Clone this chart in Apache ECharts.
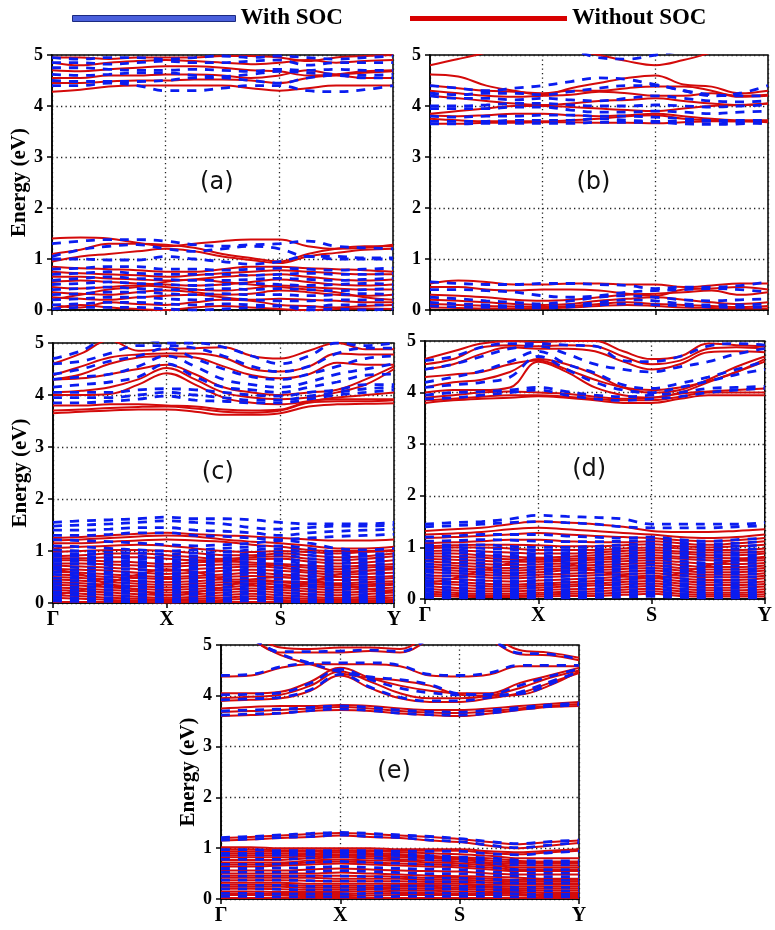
<!DOCTYPE html>
<html><head><meta charset="utf-8">
<script src="https://cdn.jsdelivr.net/npm/echarts@6/dist/echarts.min.js"></script>
<style>html,body{margin:0;padding:0;background:#fff}#c{width:775px;height:930px}</style>
</head><body><div id="c"></div>
<script>
// k-path sample positions (Γ=0, X=1, S=2, Y=3)
const K = [0,0.25,0.5,0.75,1,1.25,1.5,1.75,2,2.25,2.5,2.75,3];
const kLabels = ['Γ','X','S','Y'];
const panelTags = ['(a)','(b)','(c)','(d)','(e)'];
const tagPos = [1.45, 2.5];

// ---------- panel (a) ----------
const aRed = [
 [4.28,4.32,4.38,4.40,4.40,4.40,4.40,4.35,4.30,4.35,4.40,4.40,4.40],
 [4.45,4.45,4.48,4.50,4.50,4.52,4.52,4.50,4.45,4.55,4.60,4.55,4.55],
 [4.55,4.55,4.60,4.60,4.62,4.62,4.60,4.55,4.60,4.70,4.62,4.65,4.68],
 [4.70,4.68,4.72,4.75,4.78,4.78,4.75,4.70,4.68,4.60,4.62,4.68,4.70],
 [4.85,4.80,4.85,4.88,4.90,4.88,4.85,4.82,4.85,4.90,4.85,4.88,4.90],
 [4.95,4.95,4.92,4.95,4.95,4.95,4.98,4.98,4.95,4.88,4.95,4.98,5.00],
 [1.40,1.42,1.40,1.32,1.25,1.30,1.35,1.38,1.38,1.25,1.20,1.22,1.28],
 [1.10,1.18,1.30,1.30,1.28,1.22,1.10,1.02,0.95,1.10,1.20,1.25,1.25],
 [0.95,1.05,1.10,1.15,1.20,1.15,1.05,0.98,0.92,1.05,1.12,1.18,1.20],
 [0.85,0.82,0.80,0.78,0.75,0.75,0.80,0.85,0.85,0.82,0.80,0.78,0.75],
 [0.75,0.72,0.70,0.68,0.65,0.68,0.72,0.75,0.78,0.75,0.72,0.70,0.70],
 [0.65,0.65,0.62,0.60,0.58,0.60,0.65,0.68,0.70,0.65,0.60,0.58,0.60],
 [0.55,0.58,0.55,0.52,0.50,0.48,0.50,0.55,0.60,0.55,0.50,0.48,0.50],
 [0.45,0.42,0.45,0.48,0.45,0.40,0.38,0.42,0.48,0.45,0.42,0.40,0.40],
 [0.35,0.32,0.30,0.35,0.38,0.35,0.30,0.32,0.38,0.35,0.30,0.28,0.30],
 [0.25,0.22,0.20,0.25,0.28,0.30,0.25,0.20,0.22,0.20,0.18,0.15,0.15],
 [0.10,0.05,0.15,0.12,0.10,0.15,0.20,0.18,0.10,0.08,0.05,0.08,0.10],
 [0.02,0.10,0.05,0.02,0.00,0.05,0.08,0.05,0.02,0.00,0.02,0.03,0.02],
 [0.20,0.30,0.40,0.45,0.55,0.60,0.55,0.50,0.45,0.40,0.35,0.25,0.20]
];
const aBlue = [
 [4.40,4.40,4.45,4.40,4.30,4.30,4.35,4.40,4.40,4.30,4.28,4.32,4.40],
 [4.50,4.48,4.48,4.48,4.50,4.55,4.55,4.50,4.45,4.55,4.60,4.55,4.55],
 [4.62,4.60,4.62,4.65,4.65,4.60,4.58,4.62,4.68,4.65,4.62,4.60,4.62],
 [4.75,4.75,4.72,4.70,4.70,4.72,4.70,4.68,4.72,4.70,4.72,4.70,4.70],
 [4.85,4.85,4.82,4.85,4.88,4.85,4.85,4.88,4.90,4.80,4.85,4.85,4.85],
 [4.95,4.92,4.95,4.95,4.92,4.95,4.98,4.95,4.98,4.95,4.92,4.95,4.98],
 [1.30,1.35,1.38,1.38,1.35,1.28,1.25,1.28,1.30,1.35,1.25,1.22,1.20],
 [1.05,1.18,1.25,1.28,1.20,1.15,1.20,1.25,1.20,1.05,1.05,1.02,1.02],
 [1.00,1.00,0.98,0.98,1.05,1.00,0.95,0.90,0.95,1.05,1.00,1.00,1.00],
 [0.80,0.82,0.85,0.85,0.80,0.80,0.78,0.80,0.82,0.80,0.78,0.80,0.82],
 [0.70,0.72,0.75,0.72,0.70,0.70,0.70,0.68,0.70,0.72,0.70,0.70,0.72],
 [0.58,0.62,0.65,0.62,0.60,0.58,0.58,0.60,0.62,0.60,0.58,0.60,0.62],
 [0.50,0.52,0.55,0.52,0.50,0.48,0.50,0.52,0.50,0.48,0.50,0.52,0.50],
 [0.40,0.42,0.45,0.42,0.40,0.40,0.42,0.40,0.42,0.40,0.38,0.40,0.42],
 [0.30,0.32,0.35,0.35,0.32,0.30,0.32,0.30,0.30,0.28,0.30,0.32,0.30],
 [0.20,0.22,0.25,0.25,0.22,0.20,0.22,0.20,0.18,0.18,0.20,0.20,0.20],
 [0.10,0.12,0.15,0.15,0.12,0.10,0.12,0.10,0.08,0.05,0.10,0.10,0.10],
 [0.02,0.05,0.05,0.05,0.02,0.00,0.02,0.05,0.08,0.00,0.02,0.00,0.02]
];

// ---------- panel (b) ----------
const bRed = [
 [4.80,4.92,5.05,5.20,5.20,5.20,5.20,5.20,5.20,5.20,5.20,5.20,5.20],
 [5.20,5.20,5.20,5.20,5.20,5.10,5.00,4.88,4.80,4.90,5.05,5.20,5.20],
 [4.62,4.58,4.40,4.30,4.22,4.35,4.45,4.55,4.60,4.42,4.38,4.25,4.30],
 [4.40,4.35,4.30,4.28,4.25,4.30,4.30,4.35,4.38,4.38,4.30,4.18,4.20],
 [4.30,4.25,4.20,4.18,4.20,4.22,4.28,4.25,4.20,4.20,4.25,4.20,4.22],
 [4.20,4.15,4.10,4.05,4.02,4.05,4.10,4.12,4.15,4.10,4.05,4.02,4.05],
 [3.85,3.90,3.95,4.00,4.00,3.98,3.95,3.92,3.90,3.95,4.00,4.02,4.05],
 [3.82,3.80,3.82,3.85,3.85,3.82,3.80,3.82,3.85,3.80,3.75,3.72,3.72],
 [3.75,3.72,3.70,3.70,3.70,3.72,3.75,3.80,3.82,3.75,3.72,3.70,3.70],
 [3.65,3.65,3.67,3.67,3.68,3.68,3.67,3.67,3.66,3.68,3.70,3.70,3.68],
 [0.52,0.58,0.55,0.50,0.50,0.52,0.52,0.50,0.50,0.45,0.48,0.52,0.52],
 [0.45,0.45,0.40,0.38,0.40,0.40,0.38,0.32,0.28,0.40,0.42,0.45,0.40],
 [0.30,0.28,0.25,0.20,0.18,0.20,0.25,0.30,0.32,0.35,0.38,0.30,0.35],
 [0.20,0.18,0.15,0.12,0.10,0.12,0.18,0.22,0.25,0.20,0.15,0.12,0.15],
 [0.12,0.10,0.08,0.07,0.06,0.08,0.12,0.15,0.12,0.10,0.08,0.06,0.08],
 [0.05,0.04,0.03,0.03,0.03,0.05,0.08,0.10,0.08,0.05,0.04,0.03,0.03]
];
const bBlue = [
 [5.20,5.20,5.20,5.20,5.20,5.10,4.95,4.92,5.00,5.10,5.20,5.20,5.20],
 [4.40,4.35,4.30,4.35,4.40,4.48,4.55,4.52,4.42,4.30,4.20,4.25,4.40],
 [4.25,4.22,4.25,4.25,4.22,4.28,4.35,4.40,4.40,4.30,4.22,4.20,4.20],
 [4.20,4.15,4.15,4.12,4.15,4.12,4.10,4.15,4.20,4.15,4.10,4.08,4.10],
 [4.00,4.00,4.02,4.05,4.05,4.02,4.00,4.00,4.02,4.00,3.98,4.00,4.02],
 [3.95,3.95,3.95,3.98,3.98,3.92,3.88,3.88,3.90,3.88,3.85,3.88,3.90],
 [3.80,3.78,3.80,3.80,3.82,3.82,3.80,3.80,3.78,3.75,3.72,3.72,3.72],
 [3.70,3.70,3.70,3.72,3.72,3.72,3.75,3.72,3.70,3.70,3.70,3.68,3.65],
 [3.65,3.65,3.66,3.66,3.66,3.66,3.68,3.68,3.68,3.65,3.64,3.65,3.68],
 [0.55,0.52,0.50,0.50,0.52,0.52,0.50,0.48,0.42,0.45,0.45,0.48,0.55],
 [0.40,0.40,0.38,0.35,0.28,0.25,0.28,0.35,0.38,0.40,0.42,0.40,0.35],
 [0.25,0.22,0.18,0.15,0.12,0.18,0.25,0.28,0.25,0.20,0.18,0.20,0.22],
 [0.15,0.12,0.10,0.08,0.08,0.10,0.15,0.20,0.18,0.12,0.10,0.10,0.12],
 [0.08,0.06,0.05,0.05,0.04,0.06,0.10,0.12,0.10,0.08,0.06,0.05,0.05]
];

// ---------- panel (c) ----------
const cRed = [
 [3.65,3.68,3.70,3.72,3.72,3.68,3.62,3.62,3.65,3.78,3.82,3.83,3.84],
 [3.70,3.72,3.75,3.77,3.78,3.74,3.68,3.66,3.70,3.85,3.88,3.88,3.90],
 [3.80,3.80,3.82,3.82,3.80,3.78,3.72,3.70,3.72,3.88,3.92,3.92,3.92],
 [4.00,4.00,4.02,4.20,4.42,4.20,3.95,3.85,3.82,3.88,3.95,4.00,4.05],
 [4.05,4.08,4.15,4.30,4.52,4.30,4.05,3.95,3.92,3.95,4.05,4.20,4.50],
 [4.30,4.32,4.40,4.50,4.58,4.40,4.15,4.05,4.00,4.05,4.10,4.30,4.55],
 [4.30,4.40,4.60,4.72,4.75,4.72,4.55,4.38,4.32,4.40,4.62,4.58,4.58],
 [4.38,4.55,4.72,4.78,4.80,4.80,4.72,4.50,4.45,4.55,4.80,4.78,4.78],
 [4.60,4.80,5.05,4.85,4.88,4.90,4.92,4.75,4.70,4.85,5.00,4.88,4.88],
 [1.25,1.27,1.30,1.33,1.35,1.32,1.30,1.28,1.25,1.22,1.20,1.20,1.22],
 [1.20,1.22,1.25,1.28,1.30,1.28,1.22,1.18,1.15,1.10,1.05,1.05,1.08],
 [1.15,1.15,1.18,1.20,1.22,1.20,1.18,1.12,1.08,1.02,1.00,1.00,1.02],
 [1.05,1.08,1.10,1.12,1.10,1.05,1.00,0.98,1.00,0.98,0.95,0.98,1.00],
 [0.98,1.00,1.02,1.02,1.00,0.96,0.92,0.92,0.95,0.92,0.88,0.90,0.95],
 [0.90,0.92,0.95,0.95,0.92,0.88,0.85,0.88,0.90,0.85,0.82,0.85,0.90],
 [0.86,0.86,0.88,0.88,0.85,0.82,0.82,0.84,0.85,0.80,0.76,0.78,0.82],
 [0.82,0.82,0.80,0.78,0.75,0.78,0.80,0.78,0.75,0.72,0.70,0.72,0.75],
 [0.76,0.76,0.74,0.72,0.70,0.72,0.74,0.74,0.72,0.68,0.65,0.68,0.70],
 [0.72,0.70,0.68,0.65,0.62,0.65,0.68,0.70,0.68,0.62,0.60,0.62,0.65],
 [0.66,0.64,0.62,0.58,0.56,0.58,0.62,0.64,0.62,0.58,0.55,0.56,0.58],
 [0.60,0.58,0.55,0.52,0.50,0.52,0.55,0.58,0.55,0.52,0.50,0.50,0.52],
 [0.55,0.53,0.50,0.48,0.46,0.48,0.50,0.52,0.50,0.46,0.44,0.45,0.48],
 [0.50,0.48,0.45,0.42,0.40,0.42,0.45,0.45,0.42,0.40,0.38,0.40,0.42],
 [0.45,0.43,0.40,0.37,0.35,0.37,0.40,0.42,0.40,0.36,0.34,0.36,0.38],
 [0.40,0.38,0.35,0.32,0.30,0.32,0.35,0.38,0.35,0.32,0.30,0.32,0.35],
 [0.35,0.33,0.30,0.27,0.25,0.27,0.30,0.33,0.30,0.27,0.25,0.27,0.30],
 [0.30,0.28,0.25,0.22,0.20,0.22,0.25,0.28,0.25,0.22,0.20,0.22,0.25],
 [0.25,0.23,0.20,0.17,0.15,0.17,0.20,0.23,0.20,0.17,0.15,0.17,0.20],
 [0.20,0.18,0.15,0.12,0.10,0.12,0.15,0.18,0.15,0.12,0.10,0.12,0.15],
 [0.15,0.13,0.10,0.08,0.07,0.08,0.10,0.13,0.10,0.08,0.07,0.08,0.10],
 [0.10,0.08,0.06,0.05,0.04,0.05,0.06,0.08,0.06,0.05,0.04,0.05,0.06],
 [0.02,0.02,0.02,0.02,0.01,0.02,0.02,0.02,0.02,0.02,0.02,0.02,0.02],
 [0.15,0.25,0.40,0.55,0.65,0.60,0.45,0.35,0.30,0.40,0.55,0.62,0.68],
 [0.65,0.55,0.35,0.25,0.15,0.20,0.30,0.45,0.50,0.45,0.35,0.28,0.20]
];
const cBlue = [
 [3.85,3.85,3.88,3.92,3.98,3.90,3.88,3.85,3.85,3.92,4.00,4.05,4.10],
 [3.95,3.95,3.95,4.00,4.05,4.00,3.95,3.90,3.90,3.98,4.05,4.12,4.15],
 [4.05,4.05,4.05,4.10,4.12,4.10,4.05,4.00,3.98,4.05,4.10,4.20,4.20],
 [4.15,4.20,4.25,4.35,4.60,4.35,4.15,4.10,4.05,4.15,4.25,4.38,4.40],
 [4.30,4.35,4.40,4.55,4.75,4.55,4.30,4.20,4.15,4.25,4.40,4.50,4.60],
 [4.40,4.50,4.65,4.75,4.90,4.70,4.50,4.35,4.30,4.40,4.55,4.70,4.75],
 [4.60,4.65,4.80,4.95,4.95,4.90,4.75,4.55,4.45,4.55,4.80,4.90,4.90],
 [4.70,4.85,5.10,5.10,5.00,5.00,4.92,4.75,4.60,4.75,5.00,4.95,5.00],
 [1.55,1.58,1.60,1.62,1.65,1.62,1.62,1.60,1.55,1.52,1.52,1.52,1.55],
 [1.48,1.50,1.52,1.55,1.58,1.55,1.52,1.45,1.42,1.45,1.48,1.48,1.50],
 [1.40,1.40,1.42,1.45,1.45,1.40,1.38,1.35,1.30,1.35,1.38,1.40,1.42],
 [1.30,1.30,1.32,1.35,1.35,1.30,1.28,1.25,1.22,1.25,1.28,1.30,1.32],
 [1.22,1.20,1.18,1.15,1.12,1.10,1.12,1.15,1.20,1.15,1.05,1.02,1.05],
 [1.10,1.08,1.05,1.02,1.00,1.02,1.05,1.08,1.10,1.05,0.98,0.95,0.95],
 [1.02,1.00,0.98,0.96,0.94,0.96,0.98,1.02,1.04,0.98,0.93,0.90,0.90],
 [0.95,0.95,0.92,0.90,0.88,0.90,0.92,0.95,0.98,0.92,0.88,0.85,0.85],
 [0.90,0.90,0.87,0.85,0.83,0.85,0.87,0.90,0.92,0.86,0.83,0.80,0.80],
 [0.85,0.85,0.82,0.80,0.78,0.80,0.82,0.85,0.85,0.80,0.78,0.75,0.75],
 [0.80,0.80,0.77,0.75,0.73,0.75,0.77,0.80,0.80,0.75,0.73,0.70,0.70],
 [0.75,0.75,0.72,0.70,0.68,0.70,0.72,0.75,0.75,0.70,0.68,0.65,0.65],
 [0.70,0.68,0.66,0.64,0.63,0.65,0.67,0.70,0.68,0.65,0.63,0.60,0.60],
 [0.65,0.62,0.60,0.58,0.58,0.60,0.62,0.65,0.62,0.60,0.58,0.55,0.55],
 [0.60,0.57,0.55,0.53,0.53,0.55,0.57,0.60,0.57,0.55,0.53,0.50,0.50],
 [0.55,0.52,0.50,0.48,0.48,0.50,0.52,0.55,0.52,0.50,0.48,0.45,0.45],
 [0.48,0.47,0.45,0.43,0.43,0.45,0.47,0.48,0.46,0.45,0.43,0.40,0.40],
 [0.42,0.42,0.40,0.38,0.38,0.40,0.42,0.42,0.40,0.40,0.38,0.35,0.35],
 [0.37,0.36,0.35,0.33,0.33,0.35,0.36,0.37,0.35,0.35,0.33,0.30,0.30],
 [0.32,0.30,0.30,0.28,0.28,0.30,0.30,0.32,0.30,0.30,0.28,0.25,0.25],
 [0.27,0.25,0.25,0.23,0.23,0.25,0.25,0.27,0.25,0.24,0.23,0.20,0.20],
 [0.22,0.20,0.20,0.18,0.18,0.20,0.20,0.22,0.20,0.18,0.18,0.15,0.15],
 [0.17,0.15,0.15,0.13,0.13,0.15,0.15,0.17,0.15,0.13,0.13,0.12,0.12],
 [0.12,0.10,0.10,0.08,0.08,0.10,0.10,0.12,0.10,0.08,0.08,0.08,0.08],
 [0.08,0.07,0.07,0.05,0.05,0.07,0.07,0.08,0.07,0.05,0.05,0.05,0.05],
 [0.04,0.03,0.03,0.02,0.02,0.03,0.03,0.04,0.03,0.02,0.02,0.02,0.02]
];

// ---------- panel (d) ----------
const dRed = [
 [3.80,3.85,3.88,3.90,3.93,3.90,3.85,3.80,3.80,3.88,3.95,3.95,3.95],
 [3.85,3.88,3.92,3.95,3.95,3.92,3.88,3.85,3.85,3.92,4.00,4.00,4.00],
 [3.90,3.95,4.00,4.02,4.00,3.98,3.92,3.88,3.90,3.98,4.02,4.05,4.08],
 [4.00,4.05,4.05,4.10,4.60,4.40,4.10,3.95,3.90,4.00,4.20,4.40,4.65],
 [4.10,4.20,4.25,4.40,4.65,4.55,4.35,4.10,4.00,4.05,4.25,4.50,4.70],
 [4.30,4.35,4.40,4.55,4.62,4.45,4.25,4.10,4.05,4.10,4.22,4.40,4.60],
 [4.45,4.55,4.75,4.88,4.85,4.85,4.80,4.60,4.45,4.55,4.78,4.80,4.78],
 [4.55,4.65,4.88,4.92,4.90,4.92,4.90,4.70,4.55,4.62,4.85,4.88,4.85],
 [4.65,4.80,4.95,5.00,4.98,5.00,5.00,4.80,4.65,4.70,4.95,4.92,4.90],
 [1.32,1.35,1.38,1.45,1.50,1.48,1.45,1.40,1.32,1.30,1.30,1.32,1.35],
 [1.25,1.27,1.30,1.35,1.38,1.35,1.32,1.28,1.25,1.20,1.18,1.20,1.25],
 [1.18,1.20,1.22,1.25,1.28,1.25,1.22,1.20,1.18,1.14,1.12,1.14,1.18],
 [1.08,1.10,1.12,1.15,1.15,1.12,1.10,1.10,1.12,1.08,1.05,1.08,1.12],
 [1.02,1.04,1.05,1.05,1.04,1.02,1.02,1.04,1.06,1.02,1.00,1.02,1.05],
 [0.98,1.00,1.00,0.98,0.95,0.95,0.95,0.98,1.00,0.98,0.95,0.95,0.98],
 [0.93,0.94,0.92,0.90,0.88,0.88,0.90,0.93,0.95,0.92,0.90,0.90,0.92],
 [0.88,0.88,0.85,0.82,0.80,0.82,0.85,0.88,0.90,0.88,0.85,0.85,0.88],
 [0.83,0.82,0.80,0.77,0.76,0.78,0.80,0.83,0.85,0.82,0.80,0.79,0.82],
 [0.78,0.76,0.74,0.72,0.72,0.74,0.76,0.78,0.80,0.78,0.75,0.74,0.75],
 [0.73,0.70,0.68,0.66,0.67,0.69,0.71,0.73,0.75,0.72,0.68,0.68,0.70],
 [0.68,0.65,0.62,0.60,0.62,0.64,0.66,0.68,0.70,0.66,0.62,0.62,0.65],
 [0.63,0.60,0.57,0.55,0.57,0.59,0.61,0.63,0.65,0.60,0.57,0.57,0.60],
 [0.58,0.55,0.52,0.50,0.52,0.55,0.56,0.58,0.60,0.55,0.52,0.52,0.55],
 [0.52,0.50,0.47,0.45,0.47,0.49,0.51,0.53,0.55,0.50,0.47,0.47,0.50],
 [0.45,0.45,0.42,0.40,0.42,0.44,0.46,0.48,0.50,0.45,0.42,0.42,0.45],
 [0.40,0.39,0.36,0.34,0.36,0.38,0.40,0.43,0.45,0.40,0.37,0.37,0.40],
 [0.35,0.33,0.30,0.28,0.30,0.32,0.35,0.38,0.40,0.35,0.32,0.32,0.34],
 [0.30,0.28,0.25,0.24,0.26,0.28,0.30,0.33,0.35,0.30,0.27,0.27,0.29],
 [0.25,0.22,0.20,0.20,0.22,0.24,0.26,0.28,0.30,0.25,0.22,0.22,0.24],
 [0.20,0.17,0.15,0.15,0.17,0.19,0.20,0.23,0.25,0.20,0.17,0.17,0.19],
 [0.15,0.12,0.10,0.10,0.12,0.14,0.15,0.18,0.20,0.15,0.12,0.12,0.14],
 [0.10,0.08,0.07,0.07,0.08,0.10,0.10,0.13,0.15,0.10,0.08,0.08,0.09],
 [0.06,0.05,0.04,0.04,0.05,0.06,0.06,0.08,0.10,0.06,0.05,0.05,0.05],
 [0.30,0.40,0.55,0.70,0.80,0.70,0.55,0.45,0.40,0.50,0.65,0.75,0.80]
];
const dBlue = [
 [3.88,3.90,3.95,4.00,4.05,3.95,3.88,3.85,3.88,3.92,4.00,4.05,4.08],
 [3.95,4.00,4.02,4.05,4.10,4.02,3.95,3.92,3.95,4.00,4.08,4.10,4.12],
 [4.10,4.15,4.20,4.30,4.70,4.45,4.20,4.05,4.00,4.10,4.22,4.35,4.45],
 [4.20,4.30,4.42,4.60,4.80,4.55,4.38,4.15,4.08,4.18,4.30,4.45,4.60],
 [4.45,4.55,4.70,4.85,4.90,4.75,4.55,4.45,4.40,4.50,4.60,4.75,4.85],
 [4.62,4.70,4.88,4.95,4.95,4.92,4.90,4.62,4.60,4.70,4.90,4.95,4.92],
 [1.45,1.48,1.50,1.55,1.62,1.60,1.58,1.55,1.45,1.45,1.45,1.45,1.48],
 [1.40,1.42,1.45,1.48,1.50,1.48,1.45,1.40,1.38,1.38,1.38,1.40,1.42],
 [1.20,1.22,1.25,1.25,1.25,1.22,1.20,1.18,1.20,1.15,1.12,1.15,1.18],
 [1.12,1.13,1.15,1.14,1.12,1.11,1.11,1.12,1.14,1.10,1.07,1.08,1.12],
 [1.05,1.05,1.05,1.02,1.00,1.00,1.02,1.05,1.08,1.05,1.02,1.02,1.05],
 [1.00,1.00,0.98,0.96,0.94,0.95,0.97,1.00,1.03,1.00,0.97,0.96,0.98],
 [0.95,0.95,0.92,0.90,0.88,0.90,0.92,0.95,0.98,0.95,0.92,0.90,0.92],
 [0.90,0.90,0.87,0.85,0.83,0.85,0.87,0.90,0.93,0.90,0.87,0.85,0.87],
 [0.85,0.84,0.82,0.80,0.78,0.80,0.82,0.85,0.88,0.85,0.82,0.80,0.82],
 [0.80,0.78,0.76,0.74,0.73,0.75,0.77,0.80,0.83,0.80,0.76,0.75,0.77],
 [0.74,0.72,0.70,0.68,0.68,0.70,0.72,0.75,0.78,0.74,0.70,0.70,0.72],
 [0.68,0.66,0.64,0.62,0.63,0.65,0.67,0.70,0.72,0.68,0.65,0.64,0.66],
 [0.63,0.60,0.58,0.56,0.58,0.60,0.62,0.64,0.66,0.62,0.60,0.58,0.60],
 [0.57,0.55,0.53,0.51,0.53,0.55,0.57,0.59,0.60,0.57,0.55,0.53,0.55],
 [0.52,0.50,0.48,0.46,0.48,0.50,0.52,0.54,0.55,0.52,0.50,0.48,0.50],
 [0.46,0.44,0.42,0.40,0.42,0.44,0.46,0.48,0.50,0.46,0.44,0.42,0.44],
 [0.40,0.38,0.36,0.35,0.36,0.38,0.40,0.42,0.44,0.40,0.38,0.36,0.38],
 [0.35,0.33,0.31,0.30,0.31,0.33,0.35,0.37,0.39,0.35,0.33,0.31,0.33],
 [0.30,0.28,0.26,0.25,0.26,0.28,0.30,0.32,0.34,0.30,0.28,0.26,0.28],
 [0.25,0.23,0.21,0.20,0.21,0.23,0.25,0.27,0.29,0.25,0.23,0.21,0.23],
 [0.20,0.18,0.16,0.15,0.16,0.18,0.20,0.22,0.24,0.20,0.18,0.16,0.18],
 [0.15,0.13,0.12,0.11,0.12,0.13,0.15,0.17,0.19,0.15,0.13,0.12,0.13],
 [0.10,0.09,0.08,0.07,0.08,0.09,0.10,0.12,0.14,0.10,0.09,0.08,0.08],
 [0.06,0.05,0.05,0.04,0.05,0.05,0.06,0.08,0.09,0.06,0.05,0.05,0.05],
 [0.03,0.02,0.02,0.02,0.02,0.02,0.03,0.04,0.05,0.03,0.02,0.02,0.02]
];

// ---------- panel (e) ----------
const eRed = [
 [3.60,3.62,3.65,3.70,3.72,3.70,3.65,3.62,3.60,3.65,3.72,3.78,3.80],
 [3.68,3.70,3.72,3.75,3.78,3.75,3.70,3.67,3.66,3.70,3.75,3.80,3.84],
 [3.75,3.78,3.80,3.80,3.82,3.80,3.75,3.72,3.72,3.75,3.80,3.84,3.88],
 [3.90,3.92,3.95,4.10,4.40,4.15,3.95,3.88,3.88,3.95,4.05,4.25,4.45],
 [3.95,3.98,4.02,4.20,4.48,4.28,4.05,3.95,3.95,4.00,4.15,4.35,4.50],
 [4.05,4.05,4.08,4.28,4.55,4.35,4.20,4.10,4.05,4.05,4.25,4.40,4.55],
 [4.38,4.40,4.55,4.62,4.62,4.62,4.58,4.40,4.38,4.42,4.58,4.58,4.58],
 [5.30,5.10,4.80,4.62,4.45,4.35,4.30,4.20,4.02,4.00,4.02,4.20,4.48],
 [5.30,5.10,4.85,4.85,4.85,4.88,4.85,5.10,5.30,5.10,4.82,4.80,4.70],
 [5.30,5.20,4.95,4.92,4.95,4.95,4.92,5.20,5.30,5.20,4.90,4.85,4.75],
 [1.20,1.22,1.25,1.28,1.30,1.28,1.25,1.22,1.18,1.12,1.08,1.12,1.15],
 [1.15,1.17,1.20,1.22,1.25,1.22,1.20,1.15,1.12,1.05,1.00,1.05,1.10],
 [1.02,1.02,1.00,1.00,1.00,1.00,0.98,0.98,0.98,0.94,0.92,0.95,0.98],
 [0.98,0.98,0.96,0.96,0.96,0.96,0.95,0.95,0.95,0.90,0.88,0.92,0.95],
 [0.94,0.94,0.94,0.94,0.95,0.94,0.92,0.90,0.88,0.85,0.80,0.80,0.80],
 [0.90,0.90,0.90,0.90,0.92,0.90,0.88,0.85,0.82,0.80,0.75,0.74,0.74],
 [0.86,0.86,0.86,0.87,0.88,0.87,0.85,0.82,0.80,0.76,0.72,0.72,0.72],
 [0.82,0.82,0.82,0.84,0.85,0.84,0.82,0.80,0.78,0.72,0.70,0.70,0.70],
 [0.77,0.77,0.77,0.80,0.82,0.80,0.78,0.76,0.74,0.69,0.66,0.66,0.66],
 [0.72,0.72,0.72,0.76,0.78,0.76,0.75,0.72,0.70,0.66,0.62,0.62,0.62],
 [0.68,0.68,0.69,0.72,0.74,0.72,0.70,0.68,0.66,0.62,0.58,0.58,0.58],
 [0.64,0.64,0.66,0.68,0.70,0.68,0.66,0.64,0.62,0.58,0.55,0.55,0.55],
 [0.56,0.56,0.56,0.58,0.60,0.58,0.56,0.55,0.54,0.50,0.48,0.48,0.48],
 [0.50,0.50,0.50,0.50,0.52,0.50,0.48,0.46,0.45,0.44,0.42,0.40,0.40],
 [0.46,0.46,0.46,0.46,0.46,0.45,0.44,0.42,0.42,0.40,0.38,0.38,0.38],
 [0.42,0.42,0.42,0.42,0.40,0.40,0.40,0.38,0.38,0.36,0.35,0.35,0.35],
 [0.37,0.37,0.37,0.36,0.35,0.35,0.35,0.34,0.34,0.32,0.31,0.31,0.31],
 [0.32,0.32,0.32,0.30,0.30,0.30,0.30,0.30,0.30,0.28,0.28,0.28,0.28],
 [0.28,0.28,0.28,0.26,0.26,0.26,0.27,0.27,0.26,0.25,0.24,0.24,0.24],
 [0.24,0.24,0.24,0.22,0.22,0.22,0.24,0.24,0.22,0.22,0.20,0.20,0.20],
 [0.20,0.20,0.19,0.18,0.18,0.19,0.20,0.20,0.19,0.18,0.17,0.16,0.16],
 [0.15,0.15,0.14,0.14,0.14,0.15,0.16,0.16,0.15,0.14,0.14,0.12,0.12],
 [0.11,0.11,0.10,0.10,0.10,0.11,0.12,0.12,0.11,0.11,0.10,0.09,0.09],
 [0.08,0.08,0.07,0.06,0.06,0.07,0.08,0.08,0.08,0.08,0.07,0.06,0.06],
 [0.02,0.02,0.02,0.02,0.02,0.02,0.02,0.02,0.02,0.02,0.02,0.02,0.02]
];
const eBlue = [
 [3.62,3.64,3.66,3.71,3.74,3.71,3.66,3.63,3.62,3.66,3.73,3.79,3.82],
 [3.70,3.72,3.74,3.77,3.80,3.77,3.72,3.69,3.68,3.72,3.77,3.82,3.86],
 [3.92,3.94,3.97,4.12,4.42,4.17,3.97,3.90,3.90,3.97,4.07,4.27,4.47],
 [4.02,4.03,4.06,4.25,4.52,4.32,4.15,4.06,4.02,4.03,4.20,4.38,4.53],
 [4.40,4.42,4.57,4.64,4.65,4.65,4.60,4.42,4.40,4.45,4.60,4.60,4.60],
 [5.30,5.12,4.82,4.64,4.47,4.37,4.32,4.22,4.04,4.02,4.04,4.22,4.50],
 [5.30,5.12,4.87,4.87,4.88,4.90,4.87,5.12,5.30,5.12,4.84,4.82,4.72],
 [1.21,1.23,1.26,1.29,1.31,1.29,1.26,1.23,1.19,1.13,1.09,1.13,1.16],
 [1.16,1.18,1.21,1.23,1.26,1.23,1.21,1.16,1.13,1.06,1.01,1.06,1.11],
 [0.97,0.97,0.95,0.95,0.95,0.95,0.94,0.94,0.94,0.89,0.87,0.91,0.94],
 [0.90,0.90,0.90,0.91,0.93,0.91,0.89,0.86,0.83,0.81,0.76,0.75,0.75],
 [0.86,0.86,0.86,0.87,0.88,0.87,0.85,0.82,0.80,0.76,0.72,0.72,0.72],
 [0.78,0.78,0.78,0.81,0.83,0.81,0.79,0.77,0.75,0.70,0.67,0.67,0.67],
 [0.68,0.68,0.69,0.72,0.74,0.72,0.70,0.68,0.66,0.62,0.58,0.58,0.58],
 [0.60,0.60,0.61,0.62,0.64,0.62,0.60,0.59,0.58,0.54,0.51,0.51,0.51],
 [0.53,0.53,0.53,0.54,0.56,0.54,0.52,0.50,0.50,0.47,0.45,0.44,0.44],
 [0.45,0.45,0.45,0.45,0.45,0.44,0.43,0.41,0.41,0.39,0.37,0.37,0.37],
 [0.37,0.37,0.37,0.36,0.35,0.35,0.35,0.34,0.34,0.32,0.31,0.31,0.31],
 [0.27,0.27,0.27,0.25,0.25,0.25,0.26,0.26,0.25,0.24,0.23,0.23,0.23],
 [0.20,0.20,0.19,0.18,0.18,0.19,0.20,0.20,0.19,0.18,0.17,0.16,0.16],
 [0.11,0.11,0.10,0.10,0.10,0.11,0.12,0.12,0.11,0.11,0.10,0.09,0.09],
 [0.05,0.05,0.04,0.04,0.04,0.04,0.05,0.05,0.05,0.05,0.04,0.04,0.04]
];

const panels = [
  {red: aRed, blue: aBlue, rect:{left:52, top:55, width:341, height:255}, xl:false, yl:true},
  {red: bRed, blue: bBlue, rect:{left:430, top:55, width:338, height:255}, xl:false, yl:false},
  {red: cRed, blue: cBlue, rect:{left:53, top:343, width:341, height:260}, xl:true, yl:true},
  {red: dRed, blue: dBlue, rect:{left:425, top:341, width:343, height:258}, xl:true, yl:false},
  {red: eRed, blue: eBlue, rect:{left:221, top:645, width:358, height:254}, xl:true, yl:true}
];

const RED = '#d40a0a';
const BLUE = '#0a1cf0';
const serif = 'Liberation Serif';

const grids = [], xAxes = [], yAxes = [], series = [];
panels.forEach((p, i) => {
  grids.push(Object.assign({show:true, borderColor:'#000', borderWidth:1.5, backgroundColor:'transparent'}, p.rect));
  xAxes.push({
    type:'value', gridIndex:i, min:0, max:3, interval:1,
    axisLine:{show:true, onZero:false, lineStyle:{color:'#000', width:1.5}},
    axisTick:{show:true, length:5, lineStyle:{color:'#000', width:1.5}},
    axisLabel:{show:p.xl, margin:7, color:'#000', fontFamily:serif, fontWeight:'bold', fontSize:20,
      formatter:(v)=>kLabels[Math.round(v)] || ''},
    splitLine:{show:true, lineStyle:{color:'#222', width:1.3, type:[1.3,3.2]}}
  });
  yAxes.push({
    type:'value', gridIndex:i, min:0, max:5, interval:1,
    name: p.yl ? 'Energy (eV)' : '', nameLocation:'middle', nameGap:21, nameRotate:90,
    nameTextStyle:{color:'#000', fontFamily:serif, fontWeight:'bold', fontSize:21},
    axisLine:{show:true, lineStyle:{color:'#000', width:1.5}},
    axisTick:{show:true, length:5, lineStyle:{color:'#000', width:1.5}},
    axisLabel:{margin:9, color:'#000', fontFamily:serif, fontWeight:'bold', fontSize:18},
    splitLine:{show:true, lineStyle:{color:'#222', width:1.3, type:[1.3,3.2]}}
  });
  p.red.forEach(band => series.push({
    name:'Without SOC', type:'line', xAxisIndex:i, yAxisIndex:i, z:2,
    data:K.map((k,j)=>[k, band[j]]), smooth:0.4, showSymbol:false, symbol:'none',
    lineStyle:{color:RED, width:2}, itemStyle:{color:RED}, silent:true, animation:false
  }));
  p.blue.forEach(band => series.push({
    name:'With SOC', type:'line', xAxisIndex:i, yAxisIndex:i, z:3,
    data:K.map((k,j)=>[k, band[j]]), smooth:0.4, showSymbol:false, symbol:'none',
    lineStyle:{color:BLUE, width:2.8, type:[9,8]}, itemStyle:{color:BLUE}, silent:true, animation:false
  }));
});

const chart = echarts.init(document.getElementById('c'), null, {renderer:'canvas'});
chart.setOption({
  animation:false,
  backgroundColor:'#fff',
  legend:[
    {data:[{name:'With SOC', icon:'rect', itemStyle:{color:'#4a60dc', borderColor:'#1c2a80', borderWidth:1}}],
     left:67, top:2, itemWidth:163, itemHeight:6, selectedMode:false,
     textStyle:{color:'#000', fontFamily:serif, fontWeight:'bold', fontSize:23}},
    {data:[{name:'Without SOC', icon:'rect', itemStyle:{color:'#d80000', borderWidth:0}}],
     left:405, top:2, itemWidth:157, itemHeight:5, selectedMode:false,
     textStyle:{color:'#000', fontFamily:serif, fontWeight:'bold', fontSize:23}}
  ],
  grid:grids, xAxis:xAxes, yAxis:yAxes, series:series
});

// panel tags placed through each panel's own scales
const tags = panelTags.map((t, i) => {
  const pt = chart.convertToPixel({gridIndex:i}, tagPos);
  return {type:'text', x:pt[0], y:pt[1], z:100, silent:true,
    style:{text:t, fill:'#111', font:'24px "DejaVu Sans"', align:'center', verticalAlign:'middle'}};
});
chart.setOption({graphic:tags});
</script></body></html>
